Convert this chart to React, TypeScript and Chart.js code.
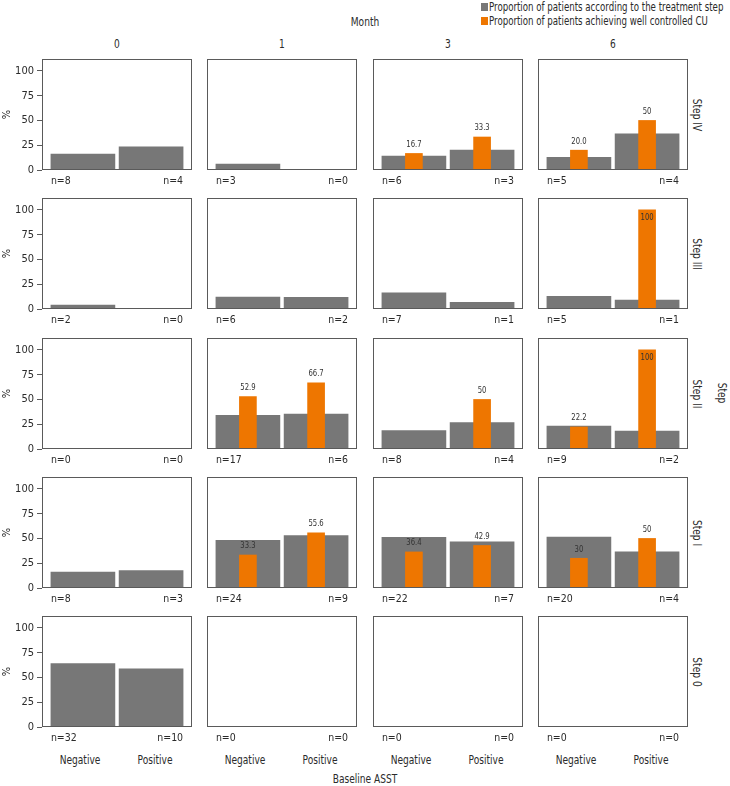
import React, { useEffect, useRef } from "react";
import { Chart, registerables } from "chart.js";

Chart.register(...registerables);

const FONT = "'Liberation Sans Narrow', 'DejaVu Sans Condensed', 'Arial Narrow', sans-serif";
const GREY = "#777777";
const ORANGE = "#EE7600";
const BORDER = "#5a5a5a";
const TEXT = "#2b2b2b";
const SQUEEZE = 0.84;

// ---- categories ----
const months = ["0", "1", "3", "6"];
const steps = ["Step IV", "Step III", "Step II", "Step I", "Step 0"];
const asstLevels = ["Negative", "Positive"];
const yTicks = [0, 25, 50, 75, 100];
const legendLabels = [
  "Proportion of patients according to the treatment step",
  "Proportion of patients achieving well controlled CU",
];

// ---- proportion of patients according to the treatment step (%) [month][Negative, Positive] ----
const shareStepIV = [[16.0, 23.5], [6.0, 0], [14.0, 20.0], [12.8, 36.4]];
const shareStepIII = [[4.0, 0], [12.0, 11.8], [16.3, 6.7], [12.8, 9.1]];
const shareStepII = [[0, 0], [34.0, 35.3], [18.6, 26.7], [23.1, 18.2]];
const shareStepI = [[16.0, 17.6], [48.0, 52.9], [51.2, 46.7], [51.3, 36.4]];
const shareStep0 = [[64.0, 58.8], [0, 0], [0, 0], [0, 0]];

// ---- proportion achieving well controlled CU (%) ----
const ctrlStepIV = [[null, null], [null, null], [16.7, 33.3], [20.0, 50]];
const ctrlStepIII = [[null, null], [null, null], [null, null], [null, 100]];
const ctrlStepII = [[null, null], [52.9, 66.7], [null, 50], [22.2, 100]];
const ctrlStepI = [[null, null], [33.3, 55.6], [36.4, 42.9], [30, 50]];
const ctrlStep0 = [[null, null], [null, null], [null, null], [null, null]];

// ---- value label texts ----
const ctrlTextStepIV = [[null, null], [null, null], ["16.7", "33.3"], ["20.0", "50"]];
const ctrlTextStepIII = [[null, null], [null, null], [null, null], [null, "100"]];
const ctrlTextStepII = [[null, null], ["52.9", "66.7"], [null, "50"], ["22.2", "100"]];
const ctrlTextStepI = [[null, null], ["33.3", "55.6"], ["36.4", "42.9"], ["30", "50"]];
const ctrlTextStep0 = [[null, null], [null, null], [null, null], [null, null]];

// ---- n per cell ----
const nStepIV = [[8, 4], [3, 0], [6, 3], [5, 4]];
const nStepIII = [[2, 0], [6, 2], [7, 1], [5, 1]];
const nStepII = [[0, 0], [17, 6], [8, 4], [9, 2]];
const nStepI = [[8, 3], [24, 9], [22, 7], [20, 4]];
const nStep0 = [[32, 10], [0, 0], [0, 0], [0, 0]];

const shareByStep = [shareStepIV, shareStepIII, shareStepII, shareStepI, shareStep0];
const ctrlByStep = [ctrlStepIV, ctrlStepIII, ctrlStepII, ctrlStepI, ctrlStep0];
const ctrlTextByStep = [ctrlTextStepIV, ctrlTextStepIII, ctrlTextStepII, ctrlTextStepI, ctrlTextStep0];
const nByStep = [nStepIV, nStepIII, nStepII, nStepI, nStep0];

// ---- layout ----
const colLeft = [42, 207, 373, 538];
const rowTop = [59, 198, 338, 477, 616];
const PANEL_W = 150;
const PANEL_H = 111;
const PADX = 6;
const PADT = 10;
const PADB = 22;
const YAXIS_W = 42;

function squeezedText(ctx: CanvasRenderingContext2D, t: string, x: number, y: number, align: CanvasTextAlign, k: number) {
  ctx.save();
  ctx.translate(x, y);
  ctx.scale(k, 1);
  ctx.textAlign = align;
  ctx.fillText(t, 0, 0);
  ctx.restore();
}

function Panel({ row, col }: { row: number; col: number }) {
  const ref = useRef<HTMLCanvasElement | null>(null);
  const leftExtra = col === 0 ? YAXIS_W : PADX;
  const width = leftExtra + PANEL_W + PADX;
  const height = PADT + PANEL_H + PADB;

  useEffect(() => {
    const share = shareByStep[row][col];
    const ctrl = ctrlByStep[row][col];
    const texts = ctrlTextByStep[row][col];
    const ns = nByStep[row][col];

    const deco = {
      id: "panelDeco",
      afterDatasetsDraw(chart: any) {
        const { ctx, chartArea, scales } = chart;
        const xs = scales.x;
        const ys = scales.y;
        ctx.save();
        // panel border
        ctx.strokeStyle = BORDER;
        ctx.lineWidth = 1;
        ctx.strokeRect(
          chartArea.left + 0.5,
          chartArea.top + 0.5,
          chartArea.right - chartArea.left - 1,
          chartArea.bottom - chartArea.top - 1
        );
        // n labels
        ctx.fillStyle = TEXT;
        ctx.font = `11px ${FONT}`;
        ctx.textBaseline = "middle";
        const ny = chartArea.bottom + 11;
        squeezedText(ctx, `n=${ns[0]}`, xs.getPixelForValue(1) - 32, ny, "left", 0.95);
        squeezedText(ctx, `n=${ns[1]}`, xs.getPixelForValue(2) + 32, ny, "right", 0.95);
        // value labels
        ctx.font = `9px ${FONT}`;
        ctx.fillStyle = "#333333";
        ctrl.forEach((v: number | null, i: number) => {
          const t = texts[i];
          if (v == null || t == null) return;
          const x = xs.getPixelForValue(i + 1);
          const top = ys.getPixelForValue(v);
          let y = top - 9;
          if (y - 5 < chartArea.top) y = top + 8;
          squeezedText(ctx, t, x, y, "center", 0.85);
        });
        ctx.restore();
      },
    };

    const yScale: any = {
      type: "linear",
      min: 0,
      max: 112,
      display: col === 0,
      position: "left",
      afterBuildTicks: (s: any) => {
        s.ticks = yTicks.map((v) => ({ value: v }));
      },
      ticks: {
        font: { family: FONT, size: 11 },
        color: TEXT,
        padding: 3,
      },
      grid: {
        drawOnChartArea: false,
        drawTicks: true,
        tickLength: 5,
        color: BORDER,
        tickColor: BORDER,
      },
      border: { display: false },
      title: {
        display: true,
        text: "%",
        color: TEXT,
        font: { family: FONT, size: 11 },
        padding: { top: 1, bottom: 0 },
      },
    };
    if (col === 0) {
      yScale.afterFit = (s: any) => {
        s.width = YAXIS_W;
      };
    }

    const chart = new Chart(ref.current as HTMLCanvasElement, {
      type: "bar",
      data: {
        datasets: [
          {
            label: legendLabels[0],
            data: [
              { x: 1, y: share[0] },
              { x: 2, y: share[1] },
            ],
            backgroundColor: GREY,
            borderWidth: 0,
            barThickness: 64,
            grouped: false,
            order: 2,
          } as any,
          {
            label: legendLabels[1],
            data: [
              { x: 1, y: ctrl[0] },
              { x: 2, y: ctrl[1] },
            ],
            backgroundColor: ORANGE,
            borderWidth: 0,
            barThickness: 17,
            grouped: false,
            order: 1,
          } as any,
        ],
      },
      options: {
        responsive: false,
        animation: false,
        events: [],
        layout: {
          padding: { left: col === 0 ? 0 : PADX, right: PADX, top: PADT, bottom: PADB },
        },
        plugins: {
          legend: { display: false },
          tooltip: { enabled: false },
        },
        scales: {
          x: {
            type: "linear",
            min: 0.4,
            max: 2.6,
            offset: false,
            display: false,
            grid: { offset: false },
            afterBuildTicks: (s: any) => {
              s.ticks = [{ value: 1 }, { value: 2 }];
            },
          },
          y: yScale,
        },
      } as any,
      plugins: [deco],
    });
    return () => chart.destroy();
  }, [row, col]);

  return (
    <canvas
      ref={ref}
      width={width}
      height={height}
      style={{
        position: "absolute",
        left: colLeft[col] - leftExtra,
        top: rowTop[row] - PADT,
        width,
        height,
      }}
    />
  );
}

function Label({
  x,
  y,
  text,
  size = 12,
  rotate = 0,
  align = "center",
  squeeze = SQUEEZE,
}: {
  x: number;
  y: number;
  text: string;
  size?: number;
  rotate?: number;
  align?: "center" | "left";
  squeeze?: number;
}) {
  const tx = align === "center" ? "-50%" : "0";
  return (
    <div
      style={{
        position: "absolute",
        left: x,
        top: y,
        transform: `translate(${tx}, -50%) rotate(${rotate}deg) scaleX(${squeeze})`,
        transformOrigin: align === "center" ? "center center" : "left center",
        fontFamily: FONT,
        fontSize: size,
        lineHeight: 1,
        color: TEXT,
        whiteSpace: "nowrap",
      }}
    >
      {text}
    </div>
  );
}

export default function App() {
  const gridLeft = colLeft[0];
  const gridRight = colLeft[3] + PANEL_W;
  const gridTop = rowTop[0];
  const gridBottom = rowTop[4] + PANEL_H;
  return (
    <div
      style={{
        position: "absolute",
        left: 0,
        top: 0,
        width: 730,
        height: 786,
        background: "#ffffff",
        overflow: "hidden",
      }}
    >
      {/* legend */}
      <div style={{ position: "absolute", left: 481, top: 3, width: 7, height: 8, background: GREY }} />
      <Label x={489} y={7} text={legendLabels[0]} align="left" squeeze={0.8} />
      <div style={{ position: "absolute", left: 481, top: 17, width: 7, height: 8, background: ORANGE }} />
      <Label x={489} y={21} text={legendLabels[1]} align="left" squeeze={0.8} />

      {/* facet titles */}
      <Label x={(gridLeft + gridRight) / 2} y={22} text="Month" />
      {months.map((m, c) => (
        <Label key={m} x={colLeft[c] + PANEL_W / 2} y={44} text={m} />
      ))}
      {steps.map((s, r) => (
        <Label key={s} x={697} y={rowTop[r] + PANEL_H / 2} text={s} rotate={90} />
      ))}
      <Label x={722} y={(gridTop + gridBottom) / 2} text="Step" rotate={90} />

      {/* panels */}
      {steps.map((_, r) => months.map((__, c) => <Panel key={`${r}-${c}`} row={r} col={c} />))}

      {/* x category labels */}
      {months.map((m, c) =>
        asstLevels.map((a, i) => (
          <Label key={`${m}-${a}`} x={colLeft[c] + PANEL_W * (0.25 + 0.5 * i)} y={760} text={a} />
        ))
      )}
      <Label x={(gridLeft + gridRight) / 2} y={779} text="Baseline ASST" />
    </div>
  );
}
